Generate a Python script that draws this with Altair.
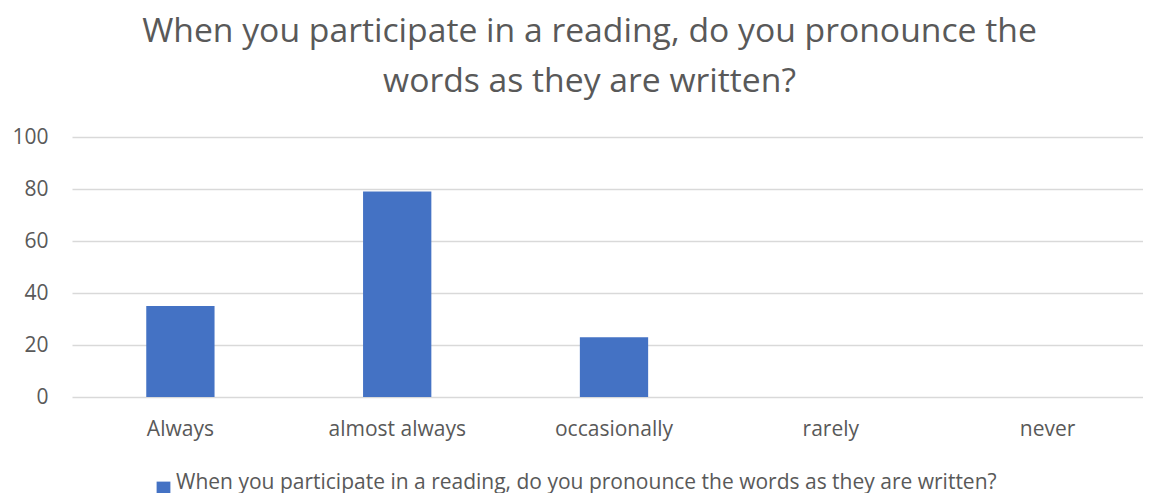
import altair as alt
import pandas as pd

categories = ["Always", "almost always", "occasionally", "rarely", "never"]
values = [35, 79, 23, 0, 0]
series_name = "When you participate in a reading, do you pronounce the words as they are written?"
title_lines = ["When you participate in a reading, do you pronounce the", "words as they are written?"]
y_ticks = [0, 20, 40, 60, 80, 100]

df = pd.DataFrame({"category": categories, "value": values, "series": [series_name] * len(categories)})

TEXT = "#595959"
FONT = "Open Sans"

chart = (
    alt.Chart(df)
    .mark_bar(color="#4472C4")
    .encode(
        x=alt.X(
            "category:N",
            sort=categories,
            scale=alt.Scale(paddingInner=0.685, paddingOuter=0.3425, range=[0, 1084]),
            axis=alt.Axis(
                title=None,
                labelAngle=0,
                ticks=False,
                tickSize=0,
                domain=False,
                grid=False,
                labelFontSize=21,
                labelColor=TEXT,
                labelFont=FONT,
                labelPadding=21,
            ),
        ),
        y=alt.Y(
            "value:Q",
            scale=alt.Scale(domain=[0, 100], nice=False),
            axis=alt.Axis(
                title=None,
                values=y_ticks,
                ticks=False,
                tickSize=0,
                domain=False,
                grid=True,
                gridColor="#d9d9d9",
                gridWidth=1.3,
                labelFontSize=21,
                labelColor=TEXT,
                labelFont=FONT,
                labelPadding=24,
            ),
        ),
        color=alt.Color(
            "series:N",
            scale=alt.Scale(range=["#4472C4"]),
            legend=alt.Legend(
                title=None,
                orient="none",
                legendX=81,
                legendY=341,
                symbolType="square",
                symbolSize=190,
                symbolStrokeWidth=0,
                labelOffset=2,
                labelFontSize=21,
                labelFont=FONT,
                labelColor=TEXT,
                labelLimit=2000,
                labelBaseline="alphabetic",
                padding=0,
            ),
        ),
    )
    .properties(
        width=1071,
        height=260,
        autosize=alt.AutoSizeParams(type="none"),
        padding={"left": 64, "top": 129, "right": 0, "bottom": 96},
        title=alt.TitleParams(
            text=title_lines,
            anchor="middle",
            frame="group",
            font=FONT,
            fontSize=33.7,
            fontWeight="normal",
            color=TEXT,
            lineHeight=50,
            baseline="alphabetic",
            offset=0,
            dx=-18,
        ),
    )
    .configure_view(stroke=None)
)

chart.save("out.html", embed_options={"renderer": "svg", "actions": False})
